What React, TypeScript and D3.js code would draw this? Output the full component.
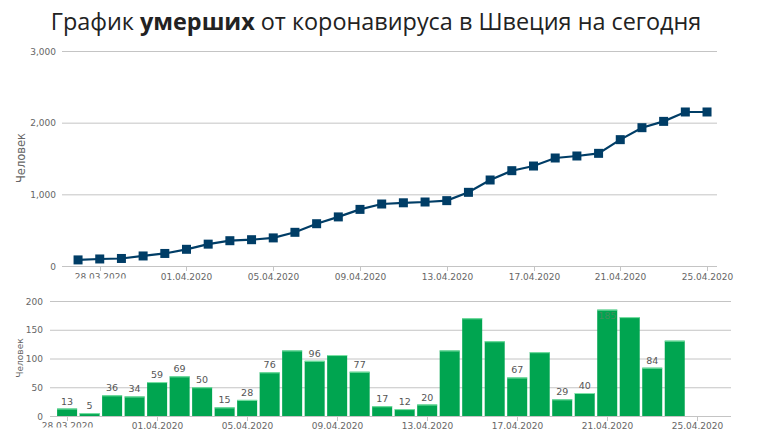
import React from "react";
import * as d3 from "d3";

const titleParts = ["График ", "умерших", " от коронавируса в Швеция на сегодня"];
const yAxisTitle = "Человек";

// cumulative deaths, 27.03.2020 .. 25.04.2020
const cumDates = [
  "27.03.2020", "28.03.2020", "29.03.2020", "30.03.2020", "31.03.2020",
  "01.04.2020", "02.04.2020", "03.04.2020", "04.04.2020", "05.04.2020",
  "06.04.2020", "07.04.2020", "08.04.2020", "09.04.2020", "10.04.2020",
  "11.04.2020", "12.04.2020", "13.04.2020", "14.04.2020", "15.04.2020",
  "16.04.2020", "17.04.2020", "18.04.2020", "19.04.2020", "20.04.2020",
  "21.04.2020", "22.04.2020", "23.04.2020", "24.04.2020", "25.04.2020",
];
const cumValues = [
  85, 98, 105, 140, 175, 233, 305, 353, 367, 392,
  470, 590, 685, 790, 865, 882, 893, 912, 1028, 1200,
  1330, 1395, 1507, 1535, 1572, 1763, 1930, 2018, 2149, 2149,
];

// daily deaths, 28.03.2020 .. 25.04.2020 (last day empty)
const dailyDates = [
  "28.03.2020", "29.03.2020", "30.03.2020", "31.03.2020", "01.04.2020",
  "02.04.2020", "03.04.2020", "04.04.2020", "05.04.2020", "06.04.2020",
  "07.04.2020", "08.04.2020", "09.04.2020", "10.04.2020", "11.04.2020",
  "12.04.2020", "13.04.2020", "14.04.2020", "15.04.2020", "16.04.2020",
  "17.04.2020", "18.04.2020", "19.04.2020", "20.04.2020", "21.04.2020",
  "22.04.2020", "23.04.2020", "24.04.2020", "25.04.2020",
];
const dailyValues: (number | null)[] = [
  13, 5, 36, 34, 59, 69, 50, 15, 28, 76,
  114, 96, 106, 77, 17, 12, 20, 114, 170, 130,
  67, 111, 29, 40, 185, 172, 84, 131, null,
];
// 1 = label above, 2 = label inside the bar, 0 = hidden
const dailyLabelMode = [
  1, 1, 1, 1, 1, 1, 1, 1, 1, 1,
  0, 1, 0, 1, 1, 1, 1, 0, 0, 0,
  1, 0, 1, 1, 2, 0, 1, 0, 0,
];

const xTickLabels = [
  "28.03.2020", "01.04.2020", "05.04.2020", "09.04.2020",
  "13.04.2020", "17.04.2020", "21.04.2020", "25.04.2020",
];
const topYTicks = [0, 1000, 2000, 3000];
const bottomYTicks = [0, 50, 100, 150, 200];

const axisFont = "'DejaVu Sans', Verdana, sans-serif";
const gridColor = "#c4c4c4";
const textColor = "#666";
const lineColor = "#003d66";
const barColor = "#00a550";

export default function App() {
  const fmt = d3.format(",");

  // top chart
  const xTop = d3.scaleLinear().domain([-0.74, cumDates.length - 1 + 0.46]).range([62, 717]);
  const yTop = d3.scaleLinear().domain([0, 3000]).range([266, 51]);
  const line = d3
    .line<number>()
    .x((_, i) => xTop(i))
    .y((d) => yTop(d));

  // bottom chart
  const xBot = d3.scaleLinear().domain([-0.76, dailyDates.length - 1 + 1.5]).range([50, 731]);
  const yBot = d3.scaleLinear().domain([0, 200]).range([416, 301]);
  const barW = 20;

  return (
    <svg
      width={759}
      height={448}
      style={{ position: "absolute", left: 0, top: 0, background: "#fff" }}
    >
      <defs>
        <clipPath id="clipTopFirst">
          <rect x={0} y={260} width={759} height={18.5} />
        </clipPath>
        <clipPath id="clipBotFirst">
          <rect x={0} y={410} width={759} height={17.5} />
        </clipPath>
      </defs>

      {/* title */}
      <text
        x={376}
        y={30}
        textAnchor="middle"
        fontFamily="'Open Sans', sans-serif"
        fontSize={23.4}
        fill="#222"
      >
        {titleParts[0]}
        <tspan fontWeight="bold">{titleParts[1]}</tspan>
        {titleParts[2]}
      </text>

      {/* ===== top chart ===== */}
      {topYTicks.map((t) => (
        <g key={"ty" + t}>
          <line x1={62} x2={717} y1={yTop(t) + 0.5} y2={yTop(t) + 0.5} stroke={gridColor} strokeWidth={1} />
          <text x={56} y={yTop(t) + 3.5} textAnchor="end" fontFamily={axisFont} fontSize={9} fill={textColor}>
            {fmt(t)}
          </text>
        </g>
      ))}
      <text
        transform={`translate(25,158) rotate(-90)`}
        textAnchor="middle"
        fontFamily={axisFont}
        fontSize={11.5}
        fill={textColor}
      >
        {yAxisTitle}
      </text>
      {xTickLabels.map((lab, k) => {
        const i = cumDates.indexOf(lab);
        const x = Math.round(xTop(i)) + 0.5;
        return (
          <g key={"tx" + lab}>
            <line x1={x} x2={x} y1={266} y2={271} stroke={gridColor} />
            <text
              x={x}
              y={280}
              textAnchor="middle"
              fontFamily={axisFont}
              fontSize={9}
              fill={textColor}
              clipPath={k === 0 ? "url(#clipTopFirst)" : undefined}
            >
              {lab}
            </text>
          </g>
        );
      })}
      <path d={line(cumValues) || ""} fill="none" stroke={lineColor} strokeWidth={2.2} />
      {cumValues.map((v, i) => (
        <rect key={"m" + i} x={xTop(i) - 4.5} y={yTop(v) - 4.5} width={9} height={9} fill={lineColor} />
      ))}

      {/* ===== bottom chart ===== */}
      {bottomYTicks.map((t) => (
        <g key={"by" + t}>
          <line x1={50} x2={731} y1={yBot(t) + 0.5} y2={yBot(t) + 0.5} stroke={gridColor} strokeWidth={1} />
          <text x={43} y={yBot(t) + 3.5} textAnchor="end" fontFamily={axisFont} fontSize={9} fill={textColor}>
            {t}
          </text>
        </g>
      ))}
      <text
        transform={`translate(23,358) rotate(-90)`}
        textAnchor="middle"
        fontFamily={axisFont}
        fontSize={9}
        fill={textColor}
      >
        {yAxisTitle}
      </text>
      {xTickLabels.map((lab, k) => {
        const i = dailyDates.indexOf(lab);
        const x = Math.round(xBot(i)) + 0.5;
        return (
          <g key={"bx" + lab}>
            <line x1={x} x2={x} y1={416} y2={421} stroke={gridColor} />
            <text
              x={x}
              y={429}
              textAnchor="middle"
              fontFamily={axisFont}
              fontSize={9}
              fill={textColor}
              clipPath={k === 0 ? "url(#clipBotFirst)" : undefined}
            >
              {lab}
            </text>
          </g>
        );
      })}
      {dailyValues.map((v, i) => {
        if (v == null) return null;
        const x = xBot(i) - barW / 2;
        const y = yBot(v);
        const h = yBot(0) - y;
        const mode = dailyLabelMode[i];
        return (
          <g key={"b" + i}>
            <rect x={x} y={y} width={barW} height={h} fill={barColor} />
            <rect x={x} y={y} width={barW} height={1} fill="#7fe3a8" />
            {mode === 1 && (
              <text x={xBot(i)} y={y - 4} textAnchor="middle" fontFamily={axisFont} fontSize={9.5} fill="#555">
                {v}
              </text>
            )}
            {mode === 2 && (
              <text x={xBot(i)} y={y + 9} textAnchor="middle" fontFamily={axisFont} fontSize={9.5} fill="#3f8f5c">
                {v}
              </text>
            )}
          </g>
        );
      })}
    </svg>
  );
}
